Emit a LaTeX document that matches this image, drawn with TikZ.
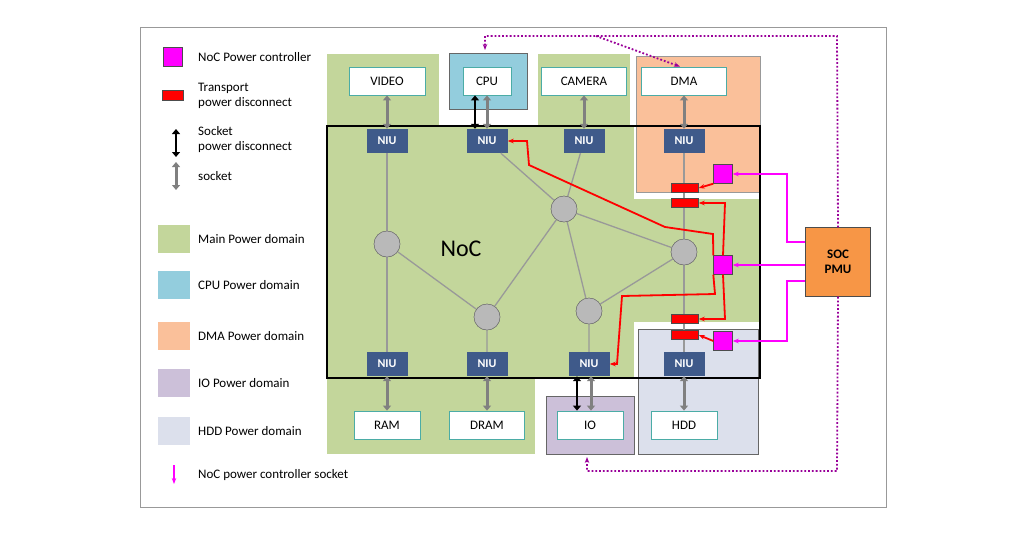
\documentclass[tikz,border=0pt]{standalone}
\usepackage{fontspec}
\setmainfont{Carlito}
\usetikzlibrary{arrows.meta}
\definecolor{maingreen}{HTML}{C3D69B}
\definecolor{cpublue}{HTML}{93CDDD}
\definecolor{dmaorange}{HTML}{FAC09A}
\definecolor{iopurple}{HTML}{CCC0D9}
\definecolor{hddgray}{HTML}{DCE0EC}
\definecolor{niublue}{HTML}{3F5A8A}
\definecolor{ipteal}{HTML}{4BACA6}
\definecolor{pmuorange}{HTML}{F79646}
\definecolor{ctlmag}{HTML}{FF00FF}
\newcommand{\txt}{\fontsize{13}{15}\selectfont}
\tikzset{
  ip/.style={draw=ipteal, thick, fill=white, minimum height=28pt, font=\txt, inner sep=0pt},
  niu/.style={fill=niublue, text=white, font=\fontsize{12}{14}\selectfont\bfseries, minimum width=41pt, minimum height=24pt, inner sep=0pt},
  router/.style={circle, draw=gray!80!black, fill=gray!55, minimum size=26pt, inner sep=0pt},
  pctrl/.style={draw=black!70, fill=ctlmag, minimum size=19pt, inner sep=0pt},
  tbar/.style={draw=black!70, fill=red, minimum width=27pt, minimum height=9pt, inner sep=0pt},
  socket/.style={{Triangle[width=8pt,length=5pt]}-{Triangle[width=8pt,length=5pt]}, gray, line width=3pt},
  spd/.style={{Triangle[width=8pt,length=5pt]}-{Triangle[width=8pt,length=5pt]}, black, line width=2.5pt},
  link/.style={gray!80, line width=1.3pt},
  rpath/.style={red, line width=1.8pt, -{Stealth[length=6pt]}},
  mpath/.style={ctlmag, line width=1.4pt, -{Stealth[length=6pt]}},
  dpath/.style={violet!80!magenta, line width=1.8pt, dotted, -{Stealth[length=6pt]}},
  pdomain/.style={draw=black!60, thick},
  legtext/.style={anchor=west, align=left, font=\txt, inner sep=0pt}
}
\begin{document}
\begin{tikzpicture}[x=1pt, y=-1pt]
\useasboundingbox (0,0) rectangle (1024,536);
\draw[gray!80, line width=1pt] (140,27) rectangle (886,507);

% Power domains
\fill[maingreen] (327,54) rectangle (439,130);
\fill[maingreen] (538,54) rectangle (630,130);
\fill[maingreen] (327,126) rectangle (760,378);
\fill[maingreen] (327,378) rectangle (535,454);
\fill[white] (634,126) rectangle (760,199);
\fill[white] (634,322) rectangle (760,378);
\draw[pdomain, fill=cpublue] (449,53) rectangle (527,109);
\draw[pdomain, draw=black!40, fill=dmaorange] (636,56) rectangle (760,192);
\draw[pdomain, fill=iopurple] (546,396) rectangle (634,454);
\draw[pdomain, fill=hddgray] (638,329) rectangle (758,454);
\draw[black, line width=1.8pt] (327,126) rectangle (760,378);

\node at (461,249) {\fontsize{24}{28}\selectfont NoC};

% IP blocks
\node[ip, minimum width=76pt] (video) at (387,81) {VIDEO};
\node[ip, minimum width=48pt] (cpu) at (487,81) {CPU};
\node[ip, minimum width=85pt] (camera) at (584,81) {CAMERA};
\node[ip, minimum width=85pt] (dma) at (684,81) {DMA};
\node[ip, minimum width=66pt] (ram) at (387,425) {RAM};
\node[ip, minimum width=75pt] (dram) at (487,425) {DRAM};
\node[ip, minimum width=66pt] (io) at (590,425) {IO};
\node[ip, minimum width=66pt] (hdd) at (684,425) {HDD};

% NIUs
\node[niu] (nvideo) at (387,141) {NIU};
\node[niu] (ncpu) at (487,141) {NIU};
\node[niu] (ncamera) at (584,141) {NIU};
\node[niu] (ndma) at (684,141) {NIU};
\node[niu] (nram) at (387,364) {NIU};
\node[niu] (ndram) at (487,364) {NIU};
\node[niu] (nio) at (589,364) {NIU};
\node[niu] (nhdd) at (684,364) {NIU};

% Routers
\node[router] (r1) at (387,244) {};
\node[router] (r2) at (564,209) {};
\node[router] (r3) at (487,317) {};
\node[router] (r4) at (589,311) {};
\node[router] (r5) at (684,252) {};

\draw[link] (nvideo) -- (r1) -- (nram);
\draw[link] (r1) -- (r3) -- (ndram);
\draw[link] (r3) -- (r2) -- (ncpu);
\draw[link] (ncamera) -- (r2) -- (r5);
\draw[link] (r2) -- (r4) -- (nio);
\draw[link] (r4) -- (r5);
\draw[link] (ndma) -- (r5) -- (nhdd);
\foreach \r in {r1,r2,r3,r4,r5} \node[router] at (\r) {};

% Sockets
\draw[socket] (video.south) -- (nvideo.north);
\draw[socket] (cpu.south) -- (ncpu.north);
\draw[spd] ([xshift=-12pt]cpu.south) -- ([xshift=-12pt]ncpu.north);
\draw[socket] (camera.south) -- (ncamera.north);
\draw[socket] (dma.south) -- (ndma.north);
\draw[socket] (nram.south) -- (ram.north);
\draw[socket] (ndram.south) -- (dram.north);
\draw[socket] ([xshift=2pt]nio.south) -- ([xshift=1pt]io.north);
\draw[spd] ([xshift=-12pt]nio.south) -- ([xshift=-13pt]io.north);
\draw[socket] (nhdd.south) -- (hdd.north);

% Power controllers and disconnects
\node[pctrl] (pc1) at (723,174) {};
\node[pctrl] (pc2) at (723,265) {};
\node[pctrl] (pc3) at (723,341) {};
\node[tbar] (tb1) at (685,188) {};
\node[tbar] (tb2) at (685,203) {};
\node[tbar] (tb3) at (685,319) {};
\node[tbar] (tb4) at (685,335) {};
\node[draw=black!70, fill=pmuorange, minimum width=65pt, minimum height=69pt, align=center, font=\txt\bfseries] (pmu) at (838,262) {SOC\\PMU};

\draw[rpath] (pc1.south west) -- (tb1.east);
\draw[rpath] (pc3.west) -- (tb4.east);
\draw[rpath] (pc2.north) -- (725,203) -- (tb2.east);
\draw[rpath] (pc2.south) -- (725,319) -- (tb3.east);
\draw[rpath] (pc2.north west) -- (713,234) -- (665,227) -- (529,165) -- (527,141) -- (ncpu.east);
\draw[rpath] (pc2.south west) -- (715,294) -- (622,296) -- (617,364) -- (nio.east);

\draw[mpath] (805,242) -- (787,242) -- (787,174) -- (pc1.east);
\draw[mpath] (805,265) -- (pc2.east);
\draw[mpath] (805,281) -- (787,281) -- (787,341) -- (pc3.east);
\coordinate (topright) at (837,36);
\coordinate (botright) at (837,471);
\coordinate (branch) at (596,36);
\draw[dpath] (pmu.north) -- (topright) -- (485,36) -- (485,50);
\draw[dpath] (branch) -- ([xshift=-4pt]dma.north);
\draw[dpath] (pmu.south) -- (botright) -- (587,471) -- (587,457);

% Legend
\node[pctrl, minimum size=19pt] (lpc) at (173,57) {};
\node[legtext] at (198,57) {NoC Power controller};
\node[tbar, minimum width=21pt, minimum height=10pt] (ltb) at (173,95) {};
\node[legtext] at (198,96) {Transport\\power disconnect};
\coordinate (lspdtop) at (176,129);
\coordinate (lspdbot) at (176,157);
\draw[spd] (lspdtop) -- (lspdbot);
\node[legtext] at (198,140) {Socket\\power disconnect};
\coordinate (lsktop) at (176,162);
\coordinate (lskbot) at (176,190);
\draw[socket] (lsktop) -- (lskbot);
\node[legtext] at (198,176) {socket};
\foreach \y/\c/\t in {239/maingreen/Main Power domain, 285/cpublue/CPU Power domain, 336/dmaorange/DMA Power domain, 383/iopurple/IO Power domain, 431/hddgray/HDD Power domain}{
  \node[fill=\c, minimum width=32pt, minimum height=28pt, inner sep=0pt] at (174,\y) {};
  \node[legtext] at (198,\y) {\t};
}
\coordinate (lmtop) at (174,465);
\coordinate (lmbot) at (174,484);
\draw[mpath] (lmtop) -- (lmbot);
\node[legtext] at (198,475) {NoC power controller socket};
\end{tikzpicture}
\end{document}
